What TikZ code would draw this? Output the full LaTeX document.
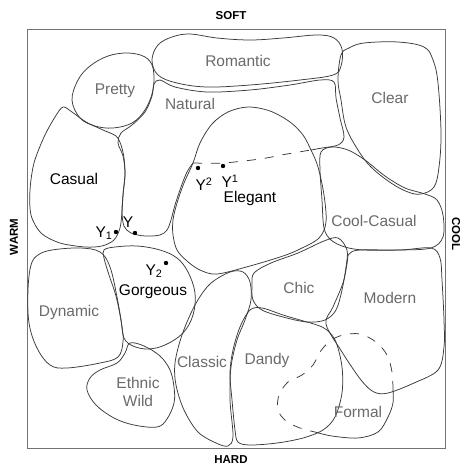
\documentclass[tikz,border=0pt]{standalone}
\usepackage{fontspec}
\setmainfont{Liberation Sans}
\definecolor{labelgray}{HTML}{6A6A6A}
\definecolor{edgegray}{HTML}{3A3A3A}
\begin{document}
\begin{tikzpicture}[x=1pt,y=-1pt,
  blob/.style={draw=edgegray, line width=0.75pt, line join=round},
  dashedge/.style={draw=edgegray, line width=0.75pt, dash pattern=on 9pt off 9pt},
  frame/.style={draw=black!55, line width=0.8pt},
  glabel/.style={text=labelgray, font=\fontsize{15.5}{18}\selectfont, inner sep=0pt},
  blabel/.style={text=black, font=\fontsize{15.5}{18}\selectfont, inner sep=0pt},
  ylabel/.style={text=black, font=\fontsize{15.5}{18}\selectfont, inner sep=0pt},
  axislabel/.style={text=black, font=\bfseries\fontsize{11.5}{14}\selectfont, inner sep=0pt},
  ydot/.style={circle, fill=black, inner sep=0pt, minimum size=4.4pt}
]
\useasboundingbox (0,0) rectangle (462,467);
\fill[white] (0,0) rectangle (462,467);

% outer frame
\draw[frame] (27,29) rectangle (445,448);

% Romantic
\draw[blob] plot[smooth cycle, tension=0.6] coordinates {
  (152,60) (158,45) (172,37) (190,34) (217,38) (250,40) (283,38) (317,35)
  (334,38) (342,49) (341,66) (333,75) (300,80) (250,85) (207,87) (177,83) (158,75)};

% Pretty
\draw[blob] plot[smooth cycle, tension=0.6] coordinates {
  (72,100) (78,80) (90,66) (108,56) (128,53) (145,57) (153,68) (153,90)
  (145,110) (132,123) (113,128) (95,126) (80,118)};

% Natural (solid part)
\draw[blob] plot[smooth, tension=0.55] coordinates {
  (311,150) (322,148) (338,145) (344,137) (340,118) (336,98) (334,82)
  (320,80) (290,85) (250,90) (207,92) (175,87) (160,80) (154,84)
  (152,96) (145,112) (132,125) (121,133) (118,143) (123,156) (125,173)
  (123,195) (122,212) (124,226) (131,233) (145,236) (160,235) (167,230)
  (171,220) (175,205) (181,187) (187,172) (193,163)};
% Natural (hidden part across Elegant)
\draw[dashedge] plot[smooth, tension=0.5] coordinates {
  (193,163) (223,163) (260,159) (287,154) (311,150)};

% Clear
\draw[blob] plot[smooth cycle, tension=0.6] coordinates {
  (341,55) (349,48) (364,43) (398,42) (424,47) (433,60) (438,83) (441,133)
  (439,167) (434,187) (421,194) (408,192) (391,183) (371,167) (358,150)
  (346,127) (341,100) (338,80)};

% Casual
\draw[blob] plot[smooth cycle, tension=0.5] coordinates {
  (63,107) (72,112) (86,122) (103,130) (116,136) (121,145) (124,158)
  (125,175) (123,195) (122,212) (120,228) (114,240) (102,246) (85,247)
  (60,243) (41,233) (31,215) (30,190) (34,163) (44,137) (55,117)};

% Elegant
\draw[blob] plot[smooth cycle, tension=0.55] coordinates {
  (193,163) (200,143) (212,124) (228,112) (248,107) (270,111) (290,122)
  (303,135) (311,150) (318,167) (324,195) (326,222) (319,238) (300,249)
  (283,256) (250,266) (217,274) (200,270) (187,261) (177,250) (173,235)
  (173,220) (177,203) (184,183)};

% Cool-Casual
\draw[blob] plot[smooth cycle, tension=0.55] coordinates {
  (321,152) (332,147) (348,150) (365,160) (385,176) (405,188) (425,194)
  (437,200) (443,215) (443,237) (431,248) (400,250) (364,250) (345,247)
  (331,240) (324,228) (322,200) (320,170)};

% Dynamic
\draw[blob] plot[smooth cycle, tension=0.6] coordinates {
  (31,265) (38,255) (52,250) (80,248) (100,252) (110,267) (117,297)
  (122,327) (123,342) (118,357) (100,363) (67,368) (50,365) (37,348)
  (29,323) (28,290)};

% Gorgeous
\draw[blob] plot[smooth cycle, tension=0.6] coordinates {
  (104,250) (115,247) (137,246) (160,250) (177,258) (188,272) (195,293)
  (193,315) (183,333) (165,345) (148,349) (133,346) (124,338) (121,320)
  (116,296) (109,275) (104,258)};

% Ethnic Wild
\draw[blob] plot[smooth cycle, tension=0.6] coordinates {
  (130,343) (144,346) (160,356) (170,370) (174,387) (174,403) (167,419)
  (157,427) (134,425) (114,418) (96,405) (87,390) (90,378) (100,370)
  (117,363) (125,353)};

% Classic
\draw[blob] plot[smooth cycle, tension=0.55] coordinates {
  (230,272) (243,272) (250,282) (251,300) (245,320) (237,340) (231,367)
  (230,400) (233,436) (228,446) (216,443) (198,432) (184,410) (176,385)
  (175,363) (182,335) (195,305) (210,284)};

% Chic
\draw[blob] plot[smooth cycle, tension=0.55] coordinates {
  (254,273) (271,263) (298,253) (324,241) (338,238) (347,250) (346,267)
  (342,290) (336,310) (325,320) (307,322) (283,317) (262,310) (253,300)
  (252,285)};

% Modern
\draw[blob] plot[smooth cycle, tension=0.55] coordinates {
  (349,254) (360,250) (400,250) (431,248) (440,258) (442,280) (444,320)
  (444,347) (438,370) (414,383) (388,393) (374,392) (361,380) (342,352)
  (326,324) (333,307) (343,283) (347,264)};

% Dandy
\draw[blob] plot[smooth cycle, tension=0.55] coordinates {
  (250,310) (262,308) (283,315) (300,320) (317,325) (327,330) (336,342)
  (342,367) (342,393) (335,417) (323,430) (303,438) (277,443) (250,445)
  (238,442) (235,430) (232,400) (230,373) (233,350) (240,327)};

% Formal (visible part)
\draw[blob] plot[smooth, tension=0.55] coordinates {
  (315,432) (332,436) (358,438) (378,432) (388,417) (393,403) (393,390)};
% Formal (hidden part across Modern and Dandy)
\draw[dashedge] plot[smooth, tension=0.55] coordinates {
  (393,390) (392,372) (387,355) (376,342) (360,334) (343,335) (330,341)
  (320,352) (313,365) (302,375) (288,382) (279,395) (278,410) (286,421)
  (300,428) (315,432)};

% region names
\node[glabel] (romantic) at (238,61) {Romantic};
\node[glabel] (pretty) at (115,91) {Pretty};
\node[glabel] (natural) at (190,104) {Natural};
\node[glabel] (clear) at (390,98) {Clear};
\node[blabel] (casual) at (74,179) {Casual};
\node[blabel] (elegant) at (250,198) {Elegant};
\node[glabel] (coolcasual) at (374,221) {Cool-Casual};
\node[blabel] (gorgeous) at (153,292) {Gorgeous};
\node[glabel] (dynamic) at (69,312) {Dynamic};
\node[glabel] (chic) at (299,288) {Chic};
\node[glabel] (modern) at (390,298) {Modern};
\node[glabel, align=center] (ethnic) at (138,392) {Ethnic\\Wild};
\node[glabel] (classic) at (202,362) {Classic};
\node[glabel] (dandy) at (267,360) {Dandy};
\node[glabel] (formal) at (358,412) {Formal};

% marked points
\node[ydot] (p1) at (116,232) {};
\node[ylabel] (p1lab) at (104,233) {Y\textsubscript{1}};
\node[ydot] (p0) at (135,233) {};
\node[ylabel] (p0lab) at (128,222) {Y};
\node[ydot] (p2) at (166,263) {};
\node[ylabel] (p2lab) at (154,271) {Y\textsubscript{2}};
\node[ydot] (q2) at (198,168) {};
\node[ylabel] (q2lab) at (204,184) {Y\textsuperscript{2}};
\node[ydot] (q1) at (223,166) {};
\node[ylabel] (q1lab) at (230,181) {Y\textsuperscript{1}};

% axis names
\node[axislabel] (soft) at (231,16) {SOFT};
\node[axislabel] (hard) at (231,460) {HARD};
\node[axislabel, rotate=90] (warm) at (14,237) {WARM};
\node[axislabel, rotate=-90] (cool) at (456,234) {COOL};
\end{tikzpicture}
\end{document}
